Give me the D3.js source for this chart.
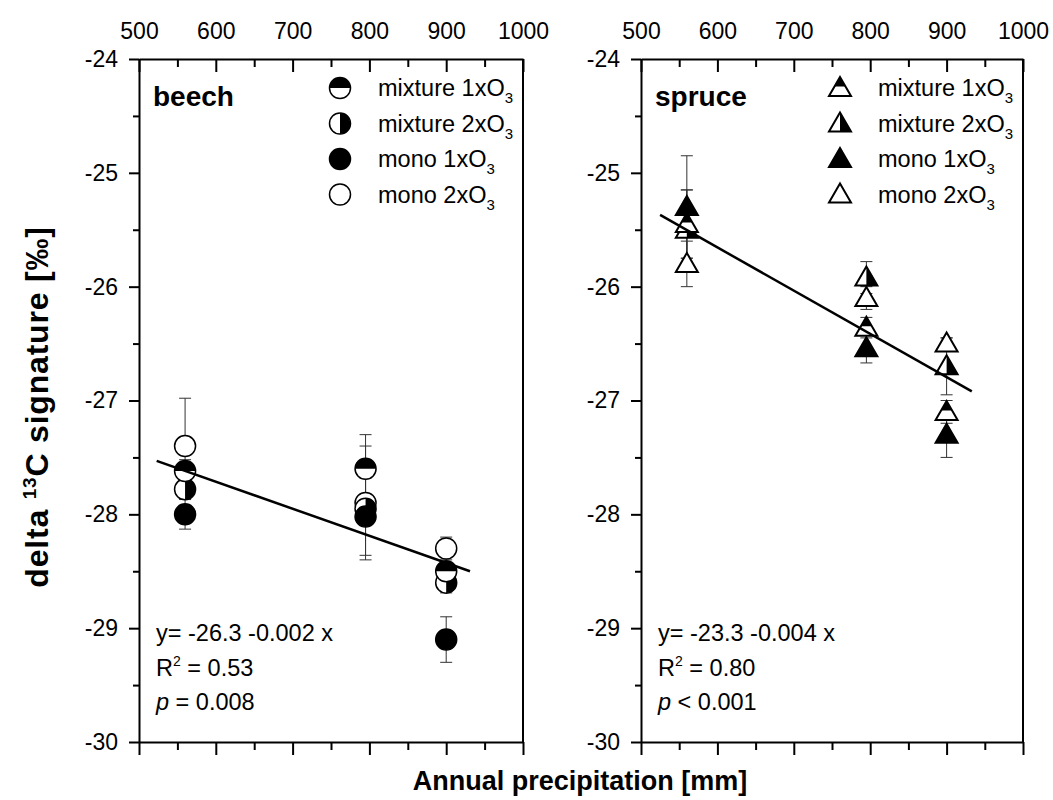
<!DOCTYPE html>
<html lang="en">
<head>
  <meta charset="UTF-8">
  <title>delta 13C vs precipitation</title>
  <style>
    body { margin: 0; background: #fff; }
    svg { display: block; font-family: "Liberation Sans", Arial, sans-serif; }
    .axis path, .axis line { stroke: #000; stroke-width: 2px; }
    .axis text { font-size: 23px; fill: #000; }
    .err { stroke: #333; stroke-width: 1px; }
    .fit { stroke: #000; stroke-width: 2.5px; }
  </style>
</head>
<body>
  <svg id="chart" width="1053" height="800"></svg>
  <script src="https://d3js.org/d3.v7.min.js"></script>
  <script>
    // precipitation sites (mm)
    const sites = [560, 795, 900];
    const groups = ["mixture 1xO3", "mixture 2xO3", "mono 1xO3", "mono 2xO3"];
    const xTicks = [500, 600, 700, 800, 900, 1000];
    const yTicks = [-30, -29, -28, -27, -26, -25, -24];

    // beech means / errors per group, one value per site
    const beechMix1 = [-27.62, -27.6, -28.5];
    const beechMix1Err = [0.1, 0.3, 0.05];
    const beechMix2 = [-27.78, -27.95, -28.6];
    const beechMix2Err = [0.05, 0.1, 0.09];
    const beechMono1 = [-28.0, -28.02, -29.1];
    const beechMono1Err = [0.13, 0.34, 0.2];
    const beechMono2 = [-27.4, -27.9, -28.3];
    const beechMono2Err = [0.42, 0.5, 0.1];

    // spruce
    const spruceMix1 = [-25.45, -26.36, -27.1];
    const spruceMix1Err = [0.3, 0.09, 0.1];
    const spruceMix2 = [-25.5, -25.92, -26.7];
    const spruceMix2Err = [0.35, 0.14, 0.25];
    const spruceMono1 = [-25.3, -26.54, -27.3];
    const spruceMono1Err = [0.45, 0.13, 0.2];
    const spruceMono2 = [-25.8, -26.1, -26.5];
    const spruceMono2Err = [0.2, 0.1, 0.05];

    // regression line end points [x, y]
    const beechFit = [[523, -27.53], [931, -28.5]];
    const spruceFit = [[525, -25.37], [933, -26.92]];

    const beechStats = ["y= -26.3 -0.002 x", "0.53", "= 0.008"];
    const spruceStats = ["y= -23.3 -0.004 x", "0.80", "< 0.001"];

    const svg = d3.select("#chart");
    const y = d3.scaleLinear().domain([-30, -24]).range([742, 59]);

    const panels = [
      { name: "beech", left: 139, right: 523, shape: "circle",
        series: [[beechMix1, beechMix1Err], [beechMix2, beechMix2Err], [beechMono1, beechMono1Err], [beechMono2, beechMono2Err]],
        fit: beechFit, stats: beechStats },
      { name: "spruce", left: 641, right: 1023, shape: "triangle",
        series: [[spruceMix1, spruceMix1Err], [spruceMix2, spruceMix2Err], [spruceMono1, spruceMono1Err], [spruceMono2, spruceMono2Err]],
        fit: spruceFit, stats: spruceStats }
    ];

    // fill styles: top half, right half, full, none
    const fills = ["top", "right", "full", "none"];

    function drawSymbol(g, shape, fill) {
      if (shape === "circle") {
        const r = 10.5;
        g.append("circle").attr("r", r).attr("fill", fill === "full" ? "#000" : "#fff");
        if (fill === "top") g.append("path").attr("d", `M${-r},0A${r},${r} 0 0 1 ${r},0Z`).attr("fill", "#000");
        if (fill === "right") g.append("path").attr("d", `M0,${-r}A${r},${r} 0 0 1 0,${r}Z`).attr("fill", "#000");
        g.append("circle").attr("r", r).attr("fill", "none").attr("stroke", "#000").attr("stroke-width", 1.5);
      } else {
        const w = 22, t = -11, b = 8;
        g.append("path").attr("d", `M0,${t}L${w / 2},${b}L${-w / 2},${b}Z`)
          .attr("fill", fill === "full" ? "#000" : "#fff");
        const m = (t + b) / 2;
        if (fill === "top") g.append("path").attr("d", `M0,${t}L${w / 4},${m}L${-w / 4},${m}Z`).attr("fill", "#000");
        if (fill === "right") g.append("path").attr("d", `M0,${t}L${w / 2},${b}L0,${b}Z`).attr("fill", "#000");
        g.append("path").attr("d", `M0,${t}L${w / 2},${b}L${-w / 2},${b}Z`)
          .attr("fill", "none").attr("stroke", "#000").attr("stroke-width", 2).attr("stroke-linejoin", "miter");
      }
    }

    panels.forEach(p => {
      const x = d3.scaleLinear().domain([500, 1000]).range([p.left, p.right]);
      const g = svg.append("g");

      // bottom axis: ticks out, no labels
      g.append("g").attr("class", "axis").attr("transform", `translate(0,${y(-30)})`)
        .call(d3.axisBottom(x).tickValues(xTicks).tickSize(13).tickSizeOuter(0).tickFormat(""));
      g.append("g").attr("class", "axis").attr("transform", `translate(0,${y(-30)})`)
        .call(d3.axisBottom(x).tickValues(d3.range(550, 1000, 100)).tickSize(8).tickSizeOuter(0).tickFormat(""))
        .select(".domain").remove();

      // top axis: ticks in, labels above
      g.append("g").attr("class", "axis").attr("transform", `translate(0,${y(-24)})`)
        .call(d3.axisTop(x).tickValues(xTicks).tickSizeInner(-13).tickSizeOuter(0).tickPadding(20).tickFormat(d => String(d)))
        .selectAll(".tick text").attr("dy", "0em");
      g.append("g").attr("class", "axis").attr("transform", `translate(0,${y(-24)})`)
        .call(d3.axisTop(x).tickValues(d3.range(550, 1000, 100)).tickSizeInner(-8).tickSizeOuter(0).tickFormat(""))
        .select(".domain").remove();

      // left axis
      g.append("g").attr("class", "axis").attr("transform", `translate(${p.left},0)`)
        .call(d3.axisLeft(y).tickValues(yTicks).tickSize(10).tickSizeOuter(0).tickPadding(11).tickFormat(d => String(d)));
      g.append("g").attr("class", "axis").attr("transform", `translate(${p.left},0)`)
        .call(d3.axisLeft(y).tickValues(d3.range(-29.5, -24, 1)).tickSize(6).tickSizeOuter(0).tickFormat(""))
        .select(".domain").remove();

      // right frame
      g.append("line").attr("x1", p.right).attr("x2", p.right).attr("y1", y(-24)).attr("y2", y(-30))
        .attr("stroke", "#000").attr("stroke-width", 2);

      // error bars
      p.series.forEach(([vals, errs]) => {
        sites.forEach((s, i) => {
          const cx = x(s), lo = y(vals[i] - errs[i]), hi = y(vals[i] + errs[i]);
          g.append("line").attr("class", "err").attr("x1", cx).attr("x2", cx).attr("y1", lo).attr("y2", hi);
          [lo, hi].forEach(yy => g.append("line").attr("class", "err")
            .attr("x1", cx - 6).attr("x2", cx + 6).attr("y1", yy).attr("y2", yy));
        });
      });

      // symbols: mono 2x first, then mixtures, filled on top
      [3, 1, 0, 2].forEach(k => {
        const [vals] = p.series[k];
        sites.forEach((s, i) => {
          const sg = g.append("g").attr("transform", `translate(${x(s)},${y(vals[i])})`);
          drawSymbol(sg, p.shape, fills[k]);
        });
      });

      // regression line
      g.append("line").attr("class", "fit")
        .attr("x1", x(p.fit[0][0])).attr("y1", y(p.fit[0][1]))
        .attr("x2", x(p.fit[1][0])).attr("y2", y(p.fit[1][1]));

      // panel title
      g.append("text").attr("x", p.left + 14).attr("y", 106)
        .attr("font-size", 28).attr("font-weight", "bold").text(p.name);

      // legend
      const lx = p.left + (p.shape === "circle" ? 201 : 199);
      groups.forEach((name, k) => {
        const ly = 88 + k * 35.5;
        const sg = g.append("g").attr("transform", `translate(${lx},${ly})`);
        drawSymbol(sg, p.shape, fills[k]);
        const t = g.append("text").attr("x", lx + 38).attr("y", ly + 8).attr("font-size", 23.5);
        t.append("tspan").text(name.slice(0, -1));
        t.append("tspan").attr("font-size", 15).attr("dy", 7).text("3");
      });

      // stats text
      const sx = p.left + 17;
      g.append("text").attr("x", sx).attr("y", 641).attr("font-size", 23.5).text(p.stats[0]);
      const r2 = g.append("text").attr("x", sx).attr("y", 676).attr("font-size", 23.5);
      r2.append("tspan").text("R");
      r2.append("tspan").attr("font-size", 14).attr("dy", -10).text("2");
      r2.append("tspan").attr("dy", 10).text(" = " + p.stats[1]);
      const pv = g.append("text").attr("x", sx).attr("y", 710).attr("font-size", 23.5);
      pv.append("tspan").attr("font-style", "italic").text("p");
      pv.append("tspan").text(" " + p.stats[2]);
    });

    // axis titles
    svg.append("text").attr("x", 580).attr("y", 790).attr("text-anchor", "middle")
      .attr("font-size", 27).attr("font-weight", "bold").text("Annual precipitation [mm]");
    const yl = svg.append("text").attr("transform", "translate(48,407) rotate(-90)")
      .attr("text-anchor", "middle").attr("font-size", 32).attr("font-weight", "bold")
      .attr("letter-spacing", 0.8);
    yl.append("tspan").text("delta ");
    yl.append("tspan").attr("font-size", 19).attr("dy", -12).text("13");
    yl.append("tspan").attr("dy", 12).text("C signature [‰]");
  </script>
</body>
</html>
